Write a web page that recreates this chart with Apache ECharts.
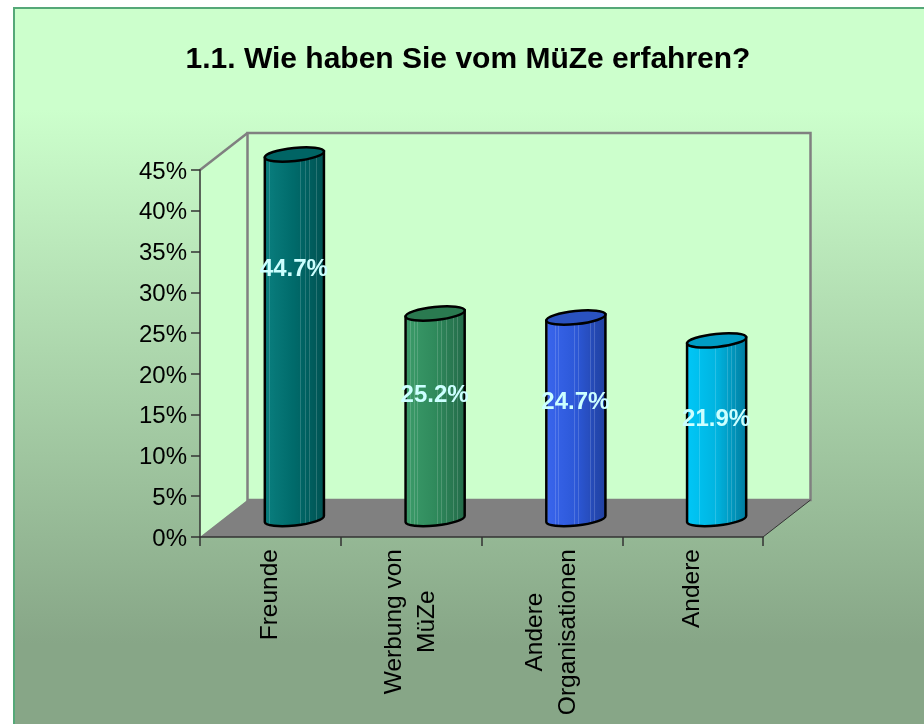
<!DOCTYPE html>
<html><head><meta charset="utf-8">
<style>html,body{margin:0;padding:0;background:#fff}#c{width:924px;height:724px}</style>
<script src="https://cdn.jsdelivr.net/npm/echarts@6/dist/echarts.min.js"></script>
</head><body><div id="c"></div>
<script>
const titleText = '1.1. Wie haben Sie vom MüZe erfahren?';
const categories = ['Freunde', 'Werbung von\nMüZe', 'Andere\nOrganisationen', 'Andere'];
const values = [44.7, 25.2, 24.7, 21.9];
const valueLabels = ['44.7%', '25.2%', '24.7%', '21.9%'];
const labelHeightShare = [0.74, 0.70, 0.68, 0.67];
const leftColors = ['#0a8080', '#3c9c6a', '#3a66ee', '#00c8f8'];
const midColors = ['#006a6a', '#2f8a5c', '#2c58d8', '#00b4e0'];
const rightColors = ['#005252', '#236a48', '#203f9c', '#007a9c'];
const topColors = ['#006464', '#2a7a50', '#2a52c0', '#009cc4'];
const font = '"Liberation Sans", Arial, sans-serif';
const depthX = 47.5, depthY = 37, halfDepthX = 24, halfDepthY = 18;
const stripeAt = [0.04, 0.10, 0.17, 0.22, 0.48, 0.54, 0.60, 0.68, 0.74, 0.8, 0.86];

function hex(c){return [1,3,5].map(i=>parseInt(c.substr(i,2),16));}
function mixRgb(A,B,t){return A.map((v,i)=>Math.round(v+(B[i]-v)*t));}
function css(a){return 'rgb('+a.join(',')+')';}
function shadeRgb(i,t){return t<0.5?mixRgb(hex(leftColors[i]),hex(midColors[i]),t/0.5):mixRgb(hex(midColors[i]),hex(rightColors[i]),(t-0.5)/0.5);}
function stripes(i){
  const s=[];
  let p=0;
  stripeAt.forEach(x=>{
    s.push({offset:p,color:css(shadeRgb(i,p))});
    s.push({offset:x-0.005,color:css(shadeRgb(i,x))});
    const lc=css(mixRgb(shadeRgb(i,x),[255,255,255],0.16));
    s.push({offset:x-0.005,color:lc});
    s.push({offset:x+0.005,color:lc});
    s.push({offset:x+0.005,color:css(shadeRgb(i,x))});
    p=x+0.005;
  });
  s.push({offset:1,color:css(shadeRgb(i,1))});
  return {type:'linear',x:0,y:0,x2:1,y2:0,colorStops:s};
}

function wallItem(params, api){
  const c=params.coordSys;
  const x0=c.x,x1=c.x+c.width,y0=c.y,y1=c.y+c.height;
  return {type:'group',children:[
    {type:'polygon',shape:{points:[[x0,y0],[x0+depthX,y0-depthY],[x0+depthX,y1-depthY],[x0,y1]]},style:{fill:'#CCFFCC'}},
    {type:'rect',shape:{x:x0+depthX,y:y0-depthY,width:c.width,height:c.height},style:{stroke:'#808080',lineWidth:2.5,fill:'#CCFFCC'}},
    {type:'polyline',shape:{points:[[x0,y0],[x0+depthX,y0-depthY]]},style:{stroke:'#808080',lineWidth:2.5,fill:null}},
    {type:'polygon',shape:{points:[[x0,y1],[x0+depthX,y1-depthY],[x1+depthX,y1-depthY],[x1,y1]]},style:{fill:'#808080'}},
    {type:'polyline',shape:{points:[[x1,y1],[x1+depthX,y1-depthY]]},style:{stroke:'#333333',lineWidth:1,fill:null}}
  ]};
}

function barItem(params, api){
  const i=api.value(0), v=api.value(1);
  const top=api.coord([i,v]), base=api.coord([i,0]);
  const w=api.size([1,0])[0]*0.42;
  const cx=top[0]+halfDepthX, rx=w/2, ry=6.5, rot=-6;
  const tilt=rx*Math.tan(rot*Math.PI/180)*-1;
  const yTop=top[1]-halfDepthY, yBase=base[1]-halfDepthY;
  const L=cx-rx,R=cx+rx;
  const body=`M${L} ${yTop+tilt} L${L} ${yBase+tilt} A${rx} ${ry} ${rot} 0 0 ${R} ${yBase-tilt} L${R} ${yTop-tilt} Z`;
  const ell=`M${L} ${yTop+tilt} A${rx} ${ry} ${rot} 1 1 ${R} ${yTop-tilt} A${rx} ${ry} ${rot} 1 1 ${L} ${yTop+tilt} Z`;
  const ly=api.coord([i,v*labelHeightShare[i]])[1]+2;
  return {type:'group',children:[
    {type:'path',shape:{pathData:body},style:{fill:stripes(i),stroke:'#000',lineWidth:2.5}},
    {type:'path',shape:{pathData:ell},style:{fill:topColors[i],stroke:'#000',lineWidth:2.5}},
    {type:'text',z2:10,style:{x:cx-0.5,y:ly,text:valueLabels[i],fill:'#CCFFFF',font:'bold 24px '+font,align:'center',verticalAlign:'middle'}}
  ]};
}

const chart=echarts.init(document.getElementById('c'),null,{renderer:'canvas'});
chart.setOption({
  animation:false,
  backgroundColor:'#ffffff',
  graphic:[{type:'rect',z:-10,silent:true,shape:{x:14,y:8,width:920,height:730},
    style:{stroke:'#55a878',lineWidth:2,fill:{type:'linear',x:0,y:0,x2:0,y2:1,colorStops:[
      {offset:0,color:'#CCFFCC'},{offset:0.14,color:'#CCFFCC'},{offset:0.87,color:'#87A687'},{offset:1,color:'#87A687'}]}}}],
  title:{text:titleText,left:463,top:40,textAlign:'center',textStyle:{fontFamily:font,fontWeight:'bold',fontSize:30,color:'#000'}},
  grid:{left:200,top:170,width:563,height:367,containLabel:false},
  xAxis:{type:'category',data:categories,z:3,
    axisLine:{lineStyle:{color:'#333',width:1.5}},
    axisTick:{show:true,length:9,alignWithLabel:false,lineStyle:{color:'#333',width:1.5}},
    axisLabel:{rotate:90,interval:0,margin:12,color:'#000',
      fontFamily:font,fontSize:24.5,lineHeight:33,
      formatter:v=>v.split('\n').map(s=>'{c|'+s+'}').join('\n'),
      rich:{c:{align:'center',fontFamily:font,fontSize:24.5,lineHeight:33,color:'#000'}}}},
  yAxis:{type:'value',min:0,max:45,interval:5,z:3,splitLine:{show:false},
    axisLine:{show:true,lineStyle:{color:'#333',width:1.5}},
    axisTick:{show:true,length:9,lineStyle:{color:'#333',width:1.5}},
    axisLabel:{formatter:v=>'{t|'+v+'%}',margin:13,fontFamily:font,fontSize:24,color:'#000',
      rich:{t:{fontFamily:font,fontSize:24,color:'#000',padding:[4,0,0,0]}}}},
  series:[
    {type:'custom',z:1,silent:true,data:[[0,0]],renderItem:wallItem,clip:false},
    {type:'custom',z:4,silent:true,data:values.map((v,i)=>[i,v]),renderItem:barItem,clip:false,encode:{x:0,y:1}}
  ]
});
</script></body></html>
